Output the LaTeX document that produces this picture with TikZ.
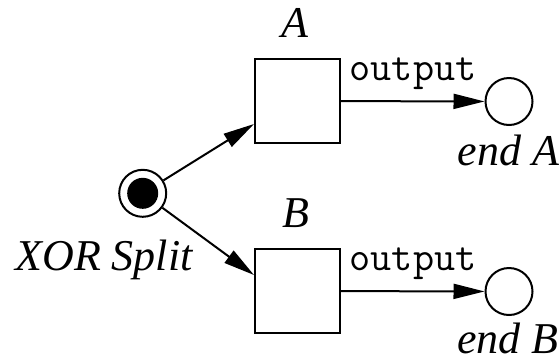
\documentclass[tikz,border=0pt]{standalone}
\usepackage{fontspec}
\setmainfont{Liberation Serif}[ItalicFont=Liberation Serif Italic]
\usetikzlibrary{arrows.meta}
\tikzset{
  ln/.style={line width=2pt},
  arr/.style={ln,-{Triangle[length=31pt,width=15pt]}},
  taskbox/.style={ln,draw,minimum width=85pt,minimum height=84pt,inner sep=0pt},
  place/.style={ln,draw,circle,minimum size=47pt,inner sep=0pt},
  lbl/.style={font=\fontsize{44}{50}\selectfont\itshape,inner sep=0pt,anchor=base,text depth=0pt},
  tt/.style={font=\fontsize{41}{45}\selectfont\ttfamily,inner sep=0pt,anchor=base}
}
\begin{document}
\begin{tikzpicture}[x=1pt,y=-1pt]
\useasboundingbox (0,0) rectangle (559,360);
\node[place] (xor) at (142.7,193.3) {};
\fill (xor.center) circle (15.5pt);
\node[taskbox] (A) at (297.5,101) {};
\node[taskbox] (B) at (297.5,291) {};
\node[place] (eA) at (509,101.5) {};
\node[place] (eB) at (509,291.5) {};
\coordinate (tA) at ([yshift=20pt]A.south west);
\coordinate (tB) at ([yshift=-27pt]B.north west);
\draw[arr] (xor) -- (tA);
\draw[arr] (xor) -- (tB);
\draw[arr] (A) -- (eA);
\draw[arr] (B) -- (eB);
\node[lbl] (lA) at (295,37) {A};
\node[lbl] (lB) at (296,227) {B};
\node[lbl] (lx) at (104,270) {XOR Split};
\node[lbl] (leA) at (508.5,165) {end A};
\node[lbl] (leB) at (508,353) {end B};
\node[tt] (oA) at (413,80) {output};
\node[tt] (oB) at (413,270) {output};
\end{tikzpicture}
\end{document}
